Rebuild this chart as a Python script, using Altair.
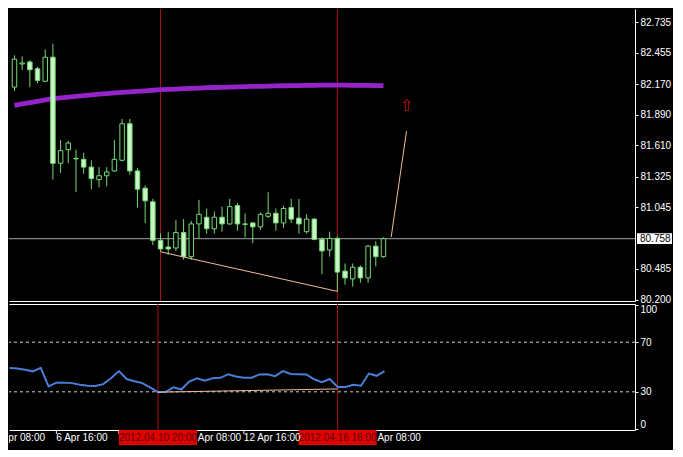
import altair as alt
import pandas as pd

# ---------------- data ----------------
bars = list(range(49))  # H4 bars, bar 0 = 5 Apr 16:00, bar 48 = 17 Apr 16:00
opens = [82.143, 82.354, 82.372, 82.310, 82.196, 82.416, 81.447, 81.571, 81.491, 81.483,
         81.412, 81.298, 81.333, 81.377, 81.474, 81.808, 81.377, 81.219, 81.095, 80.743,
         80.682, 80.673, 80.814, 80.594, 80.893, 80.954, 80.849, 80.954, 80.893, 81.060,
         80.893, 80.902, 80.866, 80.963, 80.990, 80.902, 81.042, 80.946, 80.822, 80.937,
         80.752, 80.655, 80.761, 80.462, 80.391, 80.497, 80.400, 80.690, 80.594]
highs = [82.433, 82.424, 82.389, 82.328, 82.486, 82.539, 81.659, 81.650, 81.571, 81.544,
         81.474, 81.412, 81.412, 81.659, 81.852, 81.852, 81.403, 81.245, 81.122, 80.805,
         80.822, 80.928, 80.937, 80.919, 81.113, 81.034, 81.007, 81.051, 81.122, 81.086,
         80.990, 80.910, 80.999, 81.183, 81.034, 81.060, 81.122, 81.122, 80.981, 80.946,
         80.770, 80.822, 80.778, 80.532, 80.532, 80.514, 80.699, 80.734, 80.770]
lows = [82.108, 82.301, 82.143, 82.178, 82.187, 81.298, 81.359, 81.447, 81.183, 81.351,
        81.210, 81.227, 81.236, 81.368, 81.465, 81.342, 81.042, 80.902, 80.699, 80.638,
        80.611, 80.646, 80.567, 80.567, 80.761, 80.805, 80.805, 80.822, 80.884, 80.831,
        80.770, 80.717, 80.840, 80.946, 80.831, 80.858, 80.902, 80.805, 80.805, 80.743,
        80.435, 80.594, 80.277, 80.338, 80.321, 80.356, 80.356, 80.506, 80.585]
closes = [82.398, 82.363, 82.301, 82.204, 82.416, 81.447, 81.562, 81.632, 81.487, 81.412,
          81.307, 81.333, 81.368, 81.483, 81.808, 81.377, 81.210, 81.104, 80.743, 80.664,
          80.664, 80.814, 80.594, 80.893, 80.981, 80.849, 80.954, 80.893, 81.051, 80.893,
          80.889, 80.866, 80.981, 80.990, 80.902, 81.034, 80.937, 80.893, 80.937, 80.752,
          80.646, 80.761, 80.453, 80.400, 80.497, 80.400, 80.690, 80.594, 80.758]
ma_values = [81.976, 81.989, 82.001, 82.013, 82.025, 82.037, 82.044, 82.051, 82.058, 82.065,
             82.072, 82.078, 82.084, 82.089, 82.094, 82.099, 82.104, 82.109, 82.114, 82.119,
             82.122, 82.125, 82.128, 82.131, 82.134, 82.137, 82.139, 82.141, 82.143, 82.145,
             82.147, 82.149, 82.150, 82.152, 82.153, 82.155, 82.156, 82.157, 82.158, 82.159,
             82.160, 82.160, 82.160, 82.160, 82.159, 82.158, 82.158, 82.157, 82.156]
rsi_values = [49.1, 48.8, 47.8, 46.5, 49.4, 34.3, 37.4, 37.4, 37.0, 35.7,
              34.9, 34.7, 36.2, 40.9, 46.7, 40.3, 38.5, 37.0, 33.6, 29.7,
              30.0, 33.6, 31.8, 38.2, 40.9, 39.0, 40.9, 41.3, 44.2, 42.4,
              41.3, 41.3, 44.0, 44.2, 42.6, 46.7, 44.4, 44.2, 44.0, 40.1,
              37.8, 40.3, 33.9, 33.9, 35.7, 34.9, 44.7, 42.9, 46.7]

price_ticks = [82.735, 82.455, 82.170, 81.890, 81.610, 81.325, 81.045, 80.485, 80.200]
bid_price = 80.758
rsi_ticks = [0, 30, 70, 100]
rsi_levels = [70, 30]

vline_bars = [19, 42]
vline_labels = ["2012.04.10 20:00", "2012.04.16 16:00"]

time_tick_bars = [-2, 6, 14, 22, 30, 38, 46]
time_tick_labels = ["5 Apr 08:00", "6 Apr 16:00", "10 Apr 00:00", "11 Apr 08:00",
                    "12 Apr 16:00", "16 Apr 00:00", "17 Apr 08:00"]

price_trend_bars = [19, 42]
price_trend_vals = [80.638, 80.277]
proj_bars = [49, 51]
proj_vals = [80.772, 81.740]
arrow_bar = 51
arrow_price = 81.969
rsi_trend_bars = [19, 42]
rsi_trend_vals = [29.7, 32.3]

# ---------------- styling / layout ----------------
W, H1, H2, H3 = 626, 292, 126, 19
XDOM = [-0.0625, 80.07]
PDOM = [80.189, 82.856]
RDOM = [-0.8, 100.8]
BOX_HALF = 5          # half width of the red time boxes, in bars
LABEL_BARS = 6.6      # approx. width of a date label, in bars
FONT = "Liberation Sans"
GREEN = "#74d874"
BEAR_FILL = "#c9f5c6"
PURPLE = "#9424c8"
BLUE = "#4a7ed6"
PEACH = "#f2bc9e"
DARKRED = "#b01010"
BOXRED = "#e00000"

candles = pd.DataFrame({"bar": bars, "open": opens, "high": highs, "low": lows,
                        "close": closes, "ma": ma_values, "rsi": rsi_values})
vlines = pd.DataFrame({"bar": vline_bars, "label": vline_labels})
bid = pd.DataFrame({"price": [bid_price], "label": [f"{bid_price:.3f}"]})
ptrend = pd.DataFrame({"bar": price_trend_bars, "v": price_trend_vals})
proj = pd.DataFrame({"bar": proj_bars, "v": proj_vals})
arrow = pd.DataFrame({"bar": [arrow_bar], "v": [arrow_price]})
rtrend = pd.DataFrame({"bar": rsi_trend_bars, "v": rsi_trend_vals})
levels = pd.DataFrame({"v": rsi_levels})
tticks = pd.DataFrame({"bar": time_tick_bars, "label": time_tick_labels})

# date labels: the red time boxes hide what lies under them (as in the terminal)
vis_rows = []
for b, lab in zip(time_tick_bars, time_tick_labels):
    hidden_by = [v for v in vline_bars if v - BOX_HALF <= b < v + BOX_HALF]
    if not hidden_by:
        vis_rows.append({"bar": b, "label": lab})
        continue
    right = hidden_by[0] + BOX_HALF
    if b + LABEL_BARS > right + 3:          # tail of the label sticks out
        vis_rows.append({"bar": right + 0.1, "label": lab.split(" ", 1)[1]})
tlabels = pd.DataFrame(vis_rows)

xscale = alt.Scale(domain=XDOM, nice=False, zero=False)
pscale = alt.Scale(domain=PDOM, nice=False, zero=False)
rscale = alt.Scale(domain=RDOM, nice=False, zero=False)

px_axis = alt.Axis(orient="bottom", labels=False, ticks=False, grid=False, title=None,
                   domain=True, domainColor="white", domainWidth=1)
top_axis = alt.Axis(orient="top", labels=False, ticks=False, grid=False, title=None,
                    domain=True, domainColor="white", domainWidth=1)
py_axis = alt.Axis(orient="right", values=price_ticks, format=".3f", grid=False, title=None,
                   domainColor="white", tickColor="white", tickSize=3, labelPadding=2,
                   labelColor="white", labelFont=FONT, labelFontSize=10)
ry_axis = alt.Axis(orient="right", values=rsi_ticks, format="d", grid=False, title=None,
                   domainColor="white", tickColor="white", tickSize=3, labelPadding=2,
                   labelColor="white", labelFont=FONT, labelFontSize=10,
                   labelBaseline={"condition": [{"test": "datum.value == 100", "value": "top"},
                                                {"test": "datum.value == 0", "value": "bottom"}],
                                  "value": "middle"})

def PX(field="bar"):
    return alt.X(f"{field}:Q", scale=xscale, axis=px_axis)

def PY(field):
    return alt.Y(f"{field}:Q", scale=pscale, axis=py_axis)

# ---------------- price panel ----------------
bid_line = alt.Chart(bid).mark_rule(color="#a4a4a4", strokeWidth=1).encode(y=PY("price"))
vl_price = alt.Chart(vlines).mark_rule(color=DARKRED, strokeWidth=1).encode(x=PX())
ma_line = alt.Chart(candles).mark_line(color=PURPLE, strokeWidth=4.8, clip=True).encode(
    x=PX(), y=PY("ma"))
wicks = alt.Chart(candles).mark_rule(color=GREEN, strokeWidth=1, clip=True).encode(
    x=PX(), y=PY("low"), y2="high")
bodies = alt.Chart(candles).mark_bar(width=4.5, stroke=GREEN, strokeWidth=1, clip=True).encode(
    x=PX(), y=PY("open"), y2="close",
    fill=alt.condition("datum.close >= datum.open", alt.value("black"), alt.value(BEAR_FILL)))
ptrend_line = alt.Chart(ptrend).mark_line(color=PEACH, strokeWidth=1).encode(x=PX(), y=PY("v"))
proj_line = alt.Chart(proj).mark_line(color=PEACH, strokeWidth=1).encode(x=PX(), y=PY("v"))
arrow_mark = alt.Chart(arrow).mark_text(text="⇧", color="#c81010", fontSize=16,
                                        font="DejaVu Sans", baseline="middle").encode(
    x=PX(), y=PY("v"))
bid_box = alt.Chart(bid).transform_calculate(
    hi="datum.price + 0.049", lo="datum.price - 0.049"
).mark_rect(fill="white").encode(
    x=alt.value(W + 2), x2=alt.value(W + 37), y=PY("hi"), y2="lo")
bid_text = alt.Chart(bid).mark_text(align="left", baseline="middle", color="black",
                                    font=FONT, fontSize=10).encode(
    x=alt.value(W + 5), y=PY("price"), text="label:N")

price_panel = alt.layer(bid_line, vl_price, ma_line, wicks, bodies, ptrend_line, proj_line,
                        arrow_mark, bid_box, bid_text).properties(width=W, height=H1)

# ---------------- RSI panel ----------------
def RX(field="bar"):
    return alt.X(f"{field}:Q", scale=xscale, axis=top_axis)

def RY(field):
    return alt.Y(f"{field}:Q", scale=rscale, axis=ry_axis)

lvl = alt.Chart(levels).mark_rule(color="#cfcfcf", strokeDash=[3, 3], strokeWidth=1).encode(y=RY("v"))
vl_rsi = alt.Chart(vlines).mark_rule(color=DARKRED, strokeWidth=1).encode(x=RX())
rsi_line = alt.Chart(candles).mark_line(color=BLUE, strokeWidth=2, clip=True).encode(
    x=RX(), y=RY("rsi"))
rtrend_line = alt.Chart(rtrend).mark_line(color=PEACH, strokeWidth=1).encode(x=RX(), y=RY("v"))

rsi_panel = alt.layer(lvl, vl_rsi, rsi_line, rtrend_line).properties(width=W, height=H2)

# ---------------- time strip ----------------
def TX(field="bar"):
    return alt.X(f"{field}:Q", scale=xscale, axis=top_axis)

tick_marks = alt.Chart(tticks).mark_rule(color="white", strokeWidth=1, clip=True).encode(
    x=TX(), y=alt.value(0), y2=alt.value(4))
tick_text = alt.Chart(tlabels).mark_text(align="left", baseline="middle", color="white",
                                         font=FONT, fontSize=10, clip=True).encode(
    x=TX(), y=alt.value(8), text="label:N")
red_box = alt.Chart(vlines).transform_calculate(
    x1=f"datum.bar - {BOX_HALF}", x2=f"datum.bar + {BOX_HALF}"
).mark_rect(fill=BOXRED).encode(x=TX("x1"), x2="x2:Q", y=alt.value(0), y2=alt.value(15))
red_text = alt.Chart(vlines).mark_text(align="center", baseline="middle", color="#5a0000",
                                       font=FONT, fontSize=10).encode(
    x=TX(), y=alt.value(8), text="label:N")

time_strip = alt.layer(tick_marks, red_box, tick_text, red_text).properties(width=W, height=H3)

chart = alt.vconcat(
    price_panel,
    alt.vconcat(rsi_panel, time_strip, spacing=0, bounds="flush"),
    spacing=3, bounds="flush"
).properties(
    padding=0, background="black"
).configure_view(
    stroke="transparent", fill="black"
).configure_axis(
    labelFont=FONT
)

chart.save("out.html", embed_options={"renderer": "svg", "actions": False})
